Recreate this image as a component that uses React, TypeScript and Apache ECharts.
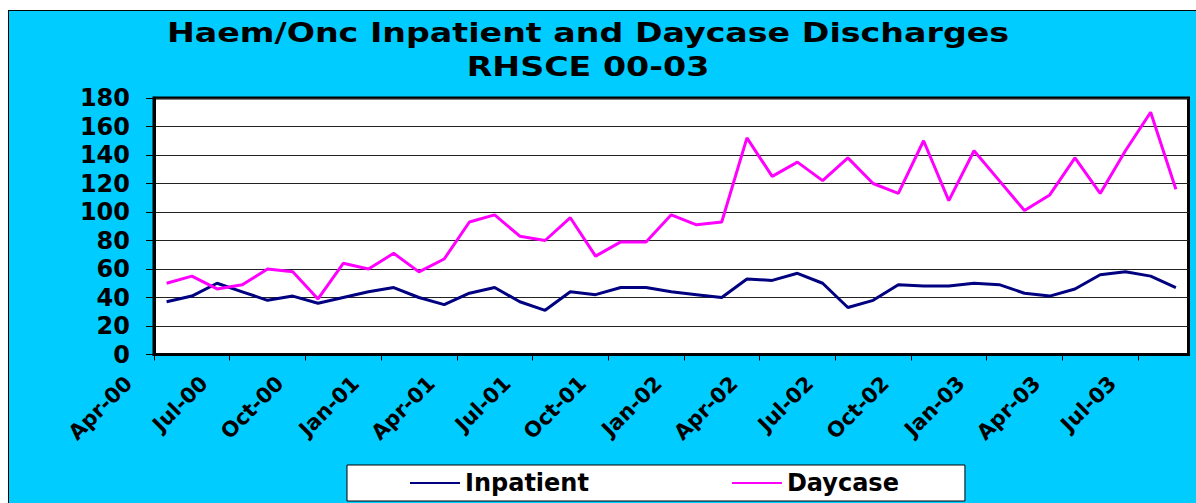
import React, { useEffect, useRef } from 'react';
import * as echarts from 'echarts';

const months = [
  'Apr-00', 'May-00', 'Jun-00', 'Jul-00', 'Aug-00', 'Sep-00', 'Oct-00', 'Nov-00', 'Dec-00', 'Jan-01', 'Feb-01', 'Mar-01',
  'Apr-01', 'May-01', 'Jun-01', 'Jul-01', 'Aug-01', 'Sep-01', 'Oct-01', 'Nov-01', 'Dec-01', 'Jan-02', 'Feb-02', 'Mar-02',
  'Apr-02', 'May-02', 'Jun-02', 'Jul-02', 'Aug-02', 'Sep-02', 'Oct-02', 'Nov-02', 'Dec-02', 'Jan-03', 'Feb-03', 'Mar-03',
  'Apr-03', 'May-03', 'Jun-03', 'Jul-03', 'Aug-03',
];

const tickLabels = [
  'Apr-00', 'Jul-00', 'Oct-00', 'Jan-01', 'Apr-01', 'Jul-01', 'Oct-01',
  'Jan-02', 'Apr-02', 'Jul-02', 'Oct-02', 'Jan-03', 'Apr-03', 'Jul-03',
];

const inpatient = [
  37, 41, 50, 44, 38, 41, 36, 40, 44, 47, 40, 35,
  43, 47, 37, 31, 44, 42, 47, 47, 44, 42, 40, 53,
  52, 57, 50, 33, 38, 49, 48, 48, 50, 49, 43, 41,
  46, 56, 58, 55, 47,
];

const daycase = [
  50, 55, 46, 49, 60, 58, 39, 64, 60, 71, 58, 67,
  93, 98, 83, 80, 96, 69, 79, 79, 98, 91, 93, 152,
  125, 135, 122, 138, 120, 113, 150, 108, 143, 122, 101, 112,
  138, 113, 143, 170, 116,
];

const titleLines = ['Haem/Onc Inpatient and Daycase Discharges', 'RHSCE 00-03'];

const FONT = '"DejaVu Sans", Verdana, sans-serif';

export default function App() {
  const ref = useRef<HTMLDivElement>(null);

  useEffect(() => {
    if (!ref.current) return;
    const chart = echarts.init(ref.current, null, { renderer: 'svg' });
    const toPoints = (vals: number[]) => vals.map((v, i) => [i + 0.5, v, months[i]]);
    chart.setOption({
      animation: false,
      backgroundColor: 'transparent',
      graphic: titleLines.map((t, i) => ({
        type: 'text',
        x: 588,
        y: 33 + i * 34,
        scaleX: 1.28,
        style: {
          text: t,
          fill: '#000',
          font: `bold 26px ${FONT}`,
          align: 'center',
          verticalAlign: 'middle',
          textAlign: 'center',
          textVerticalAlign: 'middle',
        },
      })),
      grid: {
        left: 154,
        right: 7.5,
        top: 98,
        bottom: 148.5,
        show: true,
        backgroundColor: '#fff',
        borderColor: '#000',
        borderWidth: 3,
      },
      legend: {
        left: 347,
        top: 465,
        padding: [6, 66, 6, 63],
        backgroundColor: '#fff',
        borderColor: '#000',
        borderWidth: 1,
        icon: 'rect',
        itemWidth: 50,
        itemHeight: 2,
        itemGap: 143,
        textStyle: { fontFamily: FONT, fontWeight: 'bold', fontSize: 24, color: '#000' },
        data: ['Inpatient', 'Daycase'],
      },
      xAxis: {
        type: 'value',
        min: 0,
        max: months.length,
        interval: 3,
        axisLine: { show: true, lineStyle: { color: '#000', width: 3 } },
        axisTick: { show: true, length: 6, lineStyle: { color: '#000', width: 1 } },
        splitLine: { show: false },
        axisLabel: {
          rotate: 45,
          margin: 0,
          padding: [0, 36, 0, 0],
          fontFamily: FONT,
          fontWeight: 'bold',
          fontSize: 21,
          color: '#000',
          showMaxLabel: false,
          formatter: (v: number) => (v % 3 === 0 && tickLabels[v / 3]) ? tickLabels[v / 3] : '',
        },
      },
      yAxis: {
        type: 'value',
        min: 0,
        max: 180,
        interval: 20,
        axisLine: { show: true, lineStyle: { color: '#000', width: 3 } },
        axisTick: { show: true, length: 8, lineStyle: { color: '#000', width: 1 } },
        splitLine: { show: true, lineStyle: { color: '#222', width: 1 } },
        axisLabel: {
          margin: 24,
          fontFamily: FONT,
          fontWeight: 'bold',
          fontSize: 24,
          color: '#000',
        },
      },
      series: [
        {
          name: 'Inpatient',
          type: 'line',
          data: toPoints(inpatient),
          symbol: 'none',
          lineStyle: { color: '#000080', width: 3 },
          itemStyle: { color: '#000080' },
        },
        {
          name: 'Daycase',
          type: 'line',
          data: toPoints(daycase),
          symbol: 'none',
          lineStyle: { color: '#FF00FF', width: 3 },
          itemStyle: { color: '#FF00FF' },
        },
      ],
    });
    return () => chart.dispose();
  }, []);

  return (
    <div style={{ position: 'fixed', left: 0, top: 0, width: 1196, height: 503, background: '#fff', overflow: 'hidden' }}>
      <div style={{ position: 'absolute', left: 8, top: 10, width: 1200, height: 500, background: '#00CCFF', borderLeft: '1px solid #000', borderTop: '1px solid #000' }} />
      <div ref={ref} style={{ position: 'absolute', left: 0, top: 0, width: 1196, height: 503 }} />
    </div>
  );
}
